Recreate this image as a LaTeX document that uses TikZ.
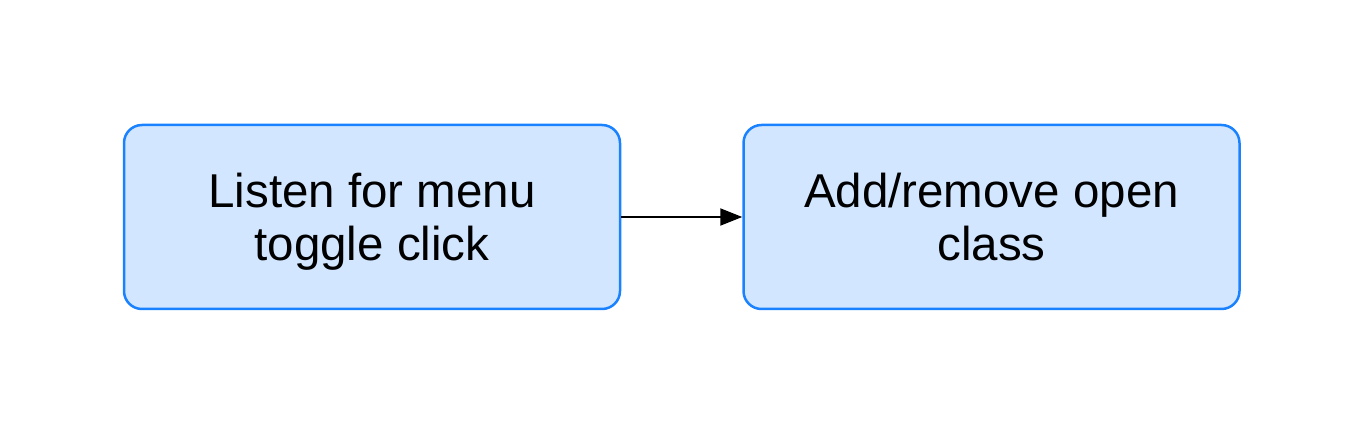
\documentclass[tikz,border=0pt]{standalone}
\usepackage{fontspec}
\setmainfont{Liberation Sans}
\usetikzlibrary{positioning,arrows.meta}
\definecolor{boxfill}{HTML}{D2E7FF}
\definecolor{boxline}{HTML}{1A82FF}
\tikzstyle{stepnode} = [draw=boxline,fill=boxfill,line width=2.5pt,rounded corners=18pt,minimum width=496pt,minimum height=184pt,align=center,text depth=0pt,font=\fontsize{47.5pt}{53pt}\selectfont]
\tikzstyle{flowarrow} = [-{Triangle[length=22pt,width=17pt]},line width=2pt]
\begin{document}
\begin{tikzpicture}[x=1pt,y=1pt]
      \useasboundingbox (0,0) rectangle (1366,434);
      %nodes
      \node[stepnode] (listen) at (372,217) {Listen for menu\\toggle click};
      \node[stepnode, right=121pt of listen] (toggle) {Add/remove open\\class};
      %edges
      \draw[flowarrow] (listen) -- (toggle);
    \end{tikzpicture}
\end{document}
